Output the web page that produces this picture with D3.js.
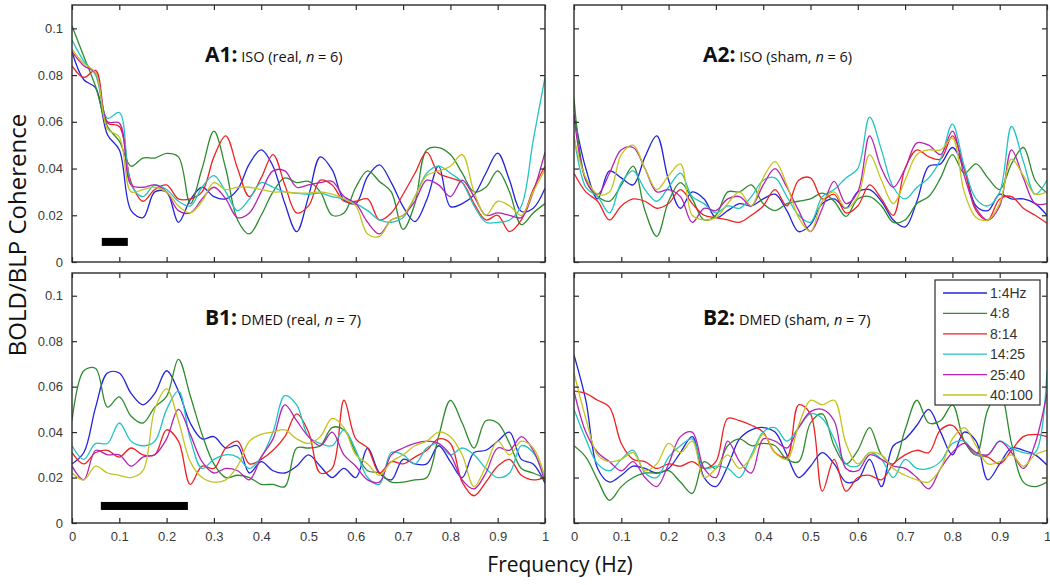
<!DOCTYPE html>
<html><head><meta charset="utf-8">
<script src="https://cdn.jsdelivr.net/npm/d3@7"></script>
<style>
html,body{margin:0;padding:0;background:#fff;}
svg{display:block;}
</style></head>
<body>
<svg id="chart" width="1050" height="585"></svg>
<script>
// ---------- DATA ----------
const freq = [0,0.025,0.05,0.075,0.1,0.125,0.15,0.175,0.2,0.225,0.25,0.275,0.3,0.325,0.35,0.375,0.4,0.425,0.45,0.475,0.5,0.525,0.55,0.575,0.6,0.625,0.65,0.675,0.7,0.725,0.75,0.775,0.8,0.825,0.85,0.875,0.9,0.925,0.95,0.975,1.0];
const bands = ["1:4Hz","4:8","8:14","14:25","25:40","40:100"];
const xTicks = [0,0.1,0.2,0.3,0.4,0.5,0.6,0.7,0.8,0.9,1];
const xTickLabels = ["0","0.1","0.2","0.3","0.4","0.5","0.6","0.7","0.8","0.9","1"];
const yTicks = [0,0.02,0.04,0.06,0.08,0.1];
const yTickLabels = ["0","0.02","0.04","0.06","0.08","0.1"];
const panelIds = ["A1","A2","B1","B2"];
const panelNames = ["ISO (real, ", "ISO (sham, ", "DMED (real, ", "DMED (sham, "];
const panelN = ["6","6","7","7"];
// significance bars [start, end] in Hz, drawn only in real-stim panels
const sigBarA1 = [0.063, 0.118];
const sigBarB1 = [0.061, 0.245];

// A1: ISO real
const A1_1to4  = [0.090,0.078,0.0745,0.0545,0.048,0.022,0.019,0.030,0.030,0.017,0.0266,0.032,0.028,0.027,0.031,0.042,0.048,0.041,0.025,0.013,0.028,0.045,0.0395,0.0266,0.025,0.0366,0.0416,0.034,0.0237,0.0173,0.0266,0.041,0.0237,0.025,0.0287,0.038,0.0466,0.035,0.0216,0.023,0.0316];
const A1_4to8  = [0.101,0.088,0.075,0.058,0.0517,0.041,0.0445,0.0445,0.0465,0.045,0.025,0.040,0.056,0.040,0.018,0.012,0.020,0.030,0.036,0.034,0.0345,0.030,0.020,0.021,0.032,0.039,0.0345,0.030,0.014,0.025,0.048,0.049,0.046,0.038,0.030,0.032,0.039,0.030,0.016,0.021,0.025];
const A1_8to14 = [0.084,0.079,0.082,0.0595,0.058,0.034,0.026,0.031,0.033,0.027,0.027,0.030,0.045,0.054,0.040,0.028,0.036,0.046,0.033,0.021,0.024,0.035,0.033,0.026,0.026,0.027,0.018,0.021,0.029,0.038,0.047,0.038,0.036,0.034,0.025,0.018,0.020,0.013,0.018,0.031,0.041];
const A1_14to25= [0.095,0.086,0.080,0.0615,0.064,0.033,0.028,0.033,0.031,0.026,0.024,0.032,0.037,0.030,0.022,0.027,0.034,0.032,0.030,0.0295,0.029,0.0295,0.028,0.027,0.025,0.022,0.018,0.017,0.019,0.028,0.038,0.041,0.038,0.034,0.024,0.017,0.017,0.018,0.024,0.052,0.079];
const A1_25to40= [0.090,0.084,0.081,0.060,0.0595,0.033,0.032,0.033,0.030,0.022,0.021,0.027,0.032,0.027,0.019,0.021,0.030,0.039,0.039,0.032,0.033,0.034,0.0345,0.028,0.025,0.017,0.012,0.018,0.020,0.026,0.035,0.033,0.028,0.035,0.028,0.020,0.021,0.020,0.019,0.030,0.047];
const A1_40to100=[0.091,0.085,0.081,0.057,0.0535,0.030,0.031,0.032,0.030,0.024,0.021,0.026,0.034,0.031,0.032,0.032,0.031,0.030,0.030,0.0295,0.0295,0.030,0.029,0.027,0.024,0.012,0.011,0.018,0.020,0.028,0.037,0.039,0.041,0.046,0.030,0.020,0.026,0.024,0.020,0.030,0.0395];

// A2: ISO sham
const A2_1to4  = [0.063,0.040,0.027,0.039,0.036,0.033,0.045,0.054,0.035,0.023,0.030,0.027,0.019,0.022,0.025,0.024,0.027,0.029,0.022,0.013,0.016,0.025,0.027,0.023,0.030,0.031,0.026,0.018,0.015,0.026,0.041,0.042,0.049,0.040,0.024,0.022,0.029,0.027,0.027,0.025,0.020];
const A2_4to8  = [0.070,0.035,0.028,0.026,0.033,0.041,0.022,0.011,0.026,0.034,0.027,0.018,0.020,0.030,0.030,0.033,0.025,0.022,0.025,0.026,0.027,0.0295,0.026,0.0195,0.027,0.028,0.024,0.017,0.018,0.025,0.028,0.036,0.046,0.038,0.042,0.036,0.031,0.042,0.049,0.035,0.0295];
const A2_8to14 = [0.038,0.030,0.026,0.018,0.024,0.027,0.026,0.023,0.025,0.031,0.025,0.020,0.019,0.018,0.017,0.020,0.024,0.031,0.024,0.035,0.036,0.027,0.029,0.021,0.024,0.033,0.027,0.020,0.040,0.048,0.045,0.044,0.054,0.040,0.022,0.018,0.027,0.028,0.023,0.020,0.0166];
const A2_14to25= [0.054,0.032,0.028,0.021,0.034,0.039,0.031,0.026,0.032,0.038,0.028,0.025,0.021,0.024,0.023,0.028,0.035,0.036,0.028,0.020,0.017,0.028,0.031,0.036,0.040,0.062,0.048,0.032,0.027,0.032,0.036,0.044,0.059,0.041,0.027,0.024,0.030,0.058,0.043,0.029,0.035];
const A2_25to40= [0.0625,0.035,0.029,0.038,0.048,0.049,0.040,0.030,0.031,0.028,0.017,0.023,0.022,0.027,0.028,0.024,0.033,0.040,0.032,0.022,0.013,0.023,0.0345,0.025,0.030,0.054,0.040,0.032,0.040,0.051,0.050,0.046,0.056,0.037,0.023,0.018,0.024,0.048,0.036,0.025,0.025];
const A2_40to100=[0.053,0.036,0.029,0.030,0.046,0.050,0.040,0.031,0.037,0.042,0.020,0.018,0.019,0.025,0.030,0.024,0.036,0.043,0.033,0.019,0.013,0.026,0.030,0.023,0.028,0.046,0.035,0.025,0.035,0.046,0.048,0.048,0.053,0.030,0.019,0.018,0.025,0.044,0.037,0.029,0.030];

// B1: DMED real
const B1_1to4  = [0.026,0.031,0.051,0.066,0.066,0.057,0.052,0.057,0.067,0.058,0.044,0.037,0.038,0.033,0.034,0.022,0.027,0.023,0.022,0.025,0.030,0.025,0.020,0.024,0.020,0.033,0.022,0.019,0.028,0.026,0.026,0.034,0.027,0.020,0.031,0.032,0.036,0.040,0.028,0.026,0.0175];
const B1_4to8  = [0.045,0.067,0.068,0.051,0.0555,0.047,0.044,0.051,0.0557,0.072,0.056,0.039,0.026,0.020,0.021,0.020,0.017,0.017,0.016,0.033,0.033,0.034,0.042,0.041,0.031,0.023,0.022,0.018,0.018,0.019,0.020,0.038,0.054,0.044,0.033,0.045,0.044,0.035,0.024,0.022,0.0197];
const B1_8to14 = [0.031,0.026,0.031,0.032,0.029,0.033,0.030,0.030,0.041,0.036,0.017,0.025,0.024,0.033,0.036,0.026,0.028,0.032,0.038,0.048,0.040,0.022,0.024,0.054,0.037,0.033,0.022,0.027,0.026,0.029,0.032,0.037,0.035,0.018,0.012,0.018,0.025,0.028,0.021,0.019,0.020];
const B1_14to25= [0.034,0.028,0.035,0.035,0.044,0.036,0.034,0.036,0.050,0.058,0.037,0.024,0.028,0.030,0.029,0.024,0.029,0.040,0.056,0.052,0.038,0.035,0.034,0.041,0.032,0.020,0.017,0.031,0.030,0.026,0.033,0.035,0.030,0.033,0.030,0.024,0.020,0.022,0.034,0.031,0.019];
const B1_25to40= [0.025,0.019,0.032,0.030,0.030,0.025,0.029,0.030,0.037,0.050,0.039,0.027,0.022,0.024,0.023,0.019,0.029,0.037,0.052,0.045,0.038,0.034,0.040,0.030,0.025,0.019,0.018,0.030,0.033,0.035,0.036,0.035,0.030,0.019,0.015,0.022,0.033,0.032,0.038,0.032,0.018];
const B1_40to100=[0.022,0.019,0.025,0.022,0.021,0.020,0.023,0.050,0.059,0.045,0.027,0.020,0.018,0.019,0.025,0.036,0.039,0.040,0.041,0.037,0.035,0.038,0.046,0.042,0.030,0.026,0.021,0.027,0.030,0.034,0.036,0.040,0.038,0.030,0.016,0.025,0.036,0.030,0.036,0.033,0.020];

// B2: DMED sham
const B2_1to4  = [0.074,0.054,0.024,0.018,0.021,0.025,0.024,0.022,0.024,0.031,0.038,0.020,0.016,0.025,0.037,0.041,0.042,0.040,0.030,0.020,0.025,0.031,0.026,0.018,0.019,0.028,0.016,0.034,0.037,0.043,0.050,0.040,0.030,0.040,0.036,0.019,0.026,0.033,0.032,0.030,0.0255];
const B2_4to8  = [0.034,0.029,0.019,0.010,0.016,0.020,0.022,0.022,0.023,0.018,0.013,0.027,0.024,0.034,0.037,0.034,0.035,0.034,0.028,0.027,0.044,0.048,0.034,0.026,0.032,0.042,0.030,0.026,0.041,0.054,0.044,0.045,0.052,0.036,0.030,0.050,0.058,0.035,0.018,0.016,0.018];
const B2_8to14 = [0.058,0.057,0.054,0.051,0.035,0.028,0.027,0.024,0.026,0.025,0.027,0.024,0.027,0.046,0.045,0.043,0.040,0.031,0.029,0.052,0.048,0.014,0.028,0.014,0.020,0.021,0.019,0.026,0.030,0.032,0.031,0.041,0.043,0.036,0.030,0.029,0.026,0.032,0.038,0.039,0.038];
const B2_14to25= [0.050,0.037,0.026,0.023,0.028,0.032,0.022,0.020,0.029,0.034,0.037,0.024,0.025,0.024,0.020,0.030,0.040,0.042,0.036,0.042,0.048,0.046,0.037,0.026,0.025,0.031,0.028,0.020,0.028,0.024,0.024,0.027,0.035,0.036,0.030,0.030,0.036,0.033,0.031,0.031,0.067];
const B2_25to40= [0.058,0.040,0.031,0.027,0.023,0.027,0.020,0.016,0.026,0.038,0.040,0.024,0.020,0.036,0.027,0.022,0.037,0.036,0.033,0.042,0.049,0.050,0.045,0.024,0.023,0.030,0.028,0.025,0.024,0.020,0.015,0.024,0.031,0.035,0.031,0.030,0.036,0.031,0.024,0.035,0.057];
const B2_40to100=[0.066,0.046,0.030,0.027,0.028,0.031,0.023,0.026,0.035,0.031,0.036,0.020,0.024,0.030,0.024,0.029,0.039,0.031,0.028,0.043,0.054,0.052,0.054,0.035,0.026,0.031,0.030,0.024,0.021,0.019,0.018,0.024,0.037,0.042,0.034,0.026,0.027,0.030,0.025,0.030,0.032];

const panelSeries = {
  A1:[A1_1to4,A1_4to8,A1_8to14,A1_14to25,A1_25to40,A1_40to100],
  A2:[A2_1to4,A2_4to8,A2_8to14,A2_14to25,A2_25to40,A2_40to100],
  B1:[B1_1to4,B1_4to8,B1_8to14,B1_14to25,B1_25to40,B1_40to100],
  B2:[B2_1to4,B2_4to8,B2_8to14,B2_14to25,B2_25to40,B2_40to100]
};

// ---------- STYLE / LAYOUT ----------
const colors = ["#2323dc","#2e8b2e","#ee2222","#22c3c3","#b423b4","#c4c41e"];
const layout = {
  A1:{x0:72,x1:545,y0:5,y1:262, yLabels:true, xLabels:false},
  A2:{x0:574,x1:1047,y0:5,y1:262, yLabels:false, xLabels:false},
  B1:{x0:72,x1:545,y0:273,y1:523, yLabels:true, xLabels:true},
  B2:{x0:574,x1:1047,y0:273,y1:523, yLabels:false, xLabels:true}
};
const svg = d3.select("#chart");
const axisColor = "#2b2b2b";
const tickFont = "'Liberation Sans', Arial, sans-serif";
const titleFont = "'Open Sans', 'Noto Sans', sans-serif";

panelIds.forEach((id, pi) => {
  const L = layout[id];
  const x = d3.scaleLinear().domain([0,1]).range([L.x0, L.x1]);
  const y = d3.scaleLinear().domain([0,0.11]).range([L.y1, L.y0]);
  const g = svg.append("g");

  const clipId = "clip"+id;
  svg.append("clipPath").attr("id",clipId).append("rect")
    .attr("x",L.x0).attr("y",L.y0).attr("width",L.x1-L.x0).attr("height",L.y1-L.y0);

  const line = d3.line().x((d,i)=>x(freq[i])).y(d=>y(d)).curve(d3.curveCatmullRom.alpha(0.5));
  const lg = g.append("g").attr("clip-path",`url(#${clipId})`);
  panelSeries[id].forEach((s,si)=>{
    lg.append("path").attr("d",line(s)).attr("fill","none")
      .attr("stroke",colors[si]).attr("stroke-width",1.3).attr("stroke-linejoin","round");
  });

  const bar = id==="A1" ? sigBarA1 : (id==="B1" ? sigBarB1 : null);
  if (bar) {
    const yc = id==="A1" ? 0.0086 : 0.0075;
    g.append("rect").attr("x",x(bar[0])).attr("width",x(bar[1])-x(bar[0]))
      .attr("y",y(yc)-4).attr("height",8).attr("fill","#000");
  }

  const bottom = d3.axisBottom(x).tickValues(xTicks).tickSizeInner(-5).tickSizeOuter(0)
    .tickFormat((d,i)=> L.xLabels ? xTickLabels[i] : "").tickPadding(9);
  const top = d3.axisTop(x).tickValues(xTicks).tickSizeInner(-5).tickSizeOuter(0).tickFormat("");
  const left = d3.axisLeft(y).tickValues(yTicks).tickSizeInner(-5).tickSizeOuter(0)
    .tickFormat((d,i)=> L.yLabels ? yTickLabels[i] : "").tickPadding(9);
  const right = d3.axisRight(y).tickValues(yTicks).tickSizeInner(-5).tickSizeOuter(0).tickFormat("");

  const ax = [
    g.append("g").attr("transform",`translate(0,${L.y1})`).call(bottom),
    g.append("g").attr("transform",`translate(0,${L.y0})`).call(top),
    g.append("g").attr("transform",`translate(${L.x0},0)`).call(left),
    g.append("g").attr("transform",`translate(${L.x1},0)`).call(right)
  ];
  ax.forEach(a=>{
    a.select(".domain").remove();
    a.selectAll(".tick line").attr("stroke",axisColor).attr("stroke-width",1.2);
    a.selectAll(".tick text").attr("fill","#3a3a3a").style("font-family",tickFont).style("font-size","13px");
  });
  g.append("rect").attr("x",L.x0).attr("y",L.y0).attr("width",L.x1-L.x0).attr("height",L.y1-L.y0)
    .attr("fill","none").attr("stroke",axisColor).attr("stroke-width",1.4);

  const tx = id.endsWith("1") ? 205 : 703;
  const ty = id.startsWith("A") ? 62 : 325;
  const t = g.append("text").attr("x",tx).attr("y",ty).style("font-family",titleFont).attr("fill","#111");
  t.append("tspan").text(id+":").style("font-weight","bold").style("font-size","21px");
  t.append("tspan").text(" "+panelNames[pi]).style("font-size","14.5px");
  t.append("tspan").text("n").style("font-size","14.5px").style("font-style","italic");
  t.append("tspan").text(" = "+panelN[pi]+")").style("font-size","14.5px");
});

// legend
const leg = svg.append("g");
leg.append("rect").attr("x",935).attr("y",280).attr("width",105).attr("height",125)
  .attr("fill","#fff").attr("stroke",axisColor).attr("stroke-width",1.2);
bands.forEach((b,i)=>{
  const yy = 293 + i*20.4;
  leg.append("line").attr("x1",943).attr("x2",987).attr("y1",yy).attr("y2",yy)
    .attr("stroke",colors[i]).attr("stroke-width",1.3);
  leg.append("text").attr("x",990).attr("y",yy+5).text(b)
    .style("font-family",tickFont).style("font-size","14px").attr("fill","#333");
});

// axis titles
svg.append("text").attr("x",560).attr("y",572).attr("text-anchor","middle")
  .style("font-family",titleFont).style("font-size","21px").attr("fill","#111").text("Frequency (Hz)");
svg.append("text").attr("transform","translate(26,235) rotate(-90)").attr("text-anchor","middle")
  .style("font-family",titleFont).style("font-size","24px").attr("fill","#111").text("BOLD/BLP Coherence");
</script>
</body></html>
